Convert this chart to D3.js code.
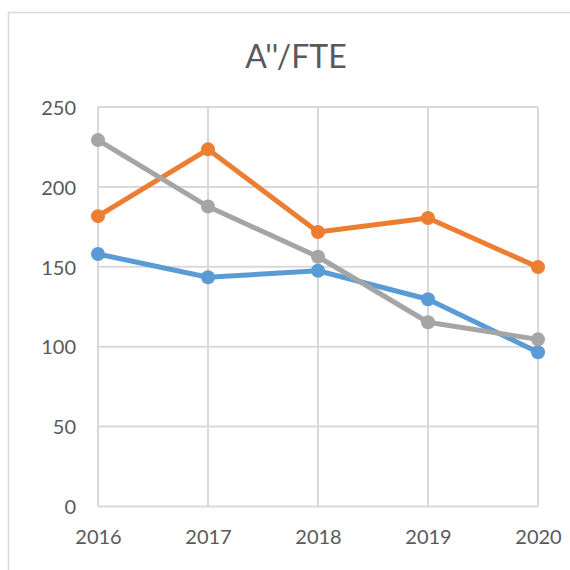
<!DOCTYPE html>
<html>
<head>
<meta charset="utf-8">
<script src="https://cdn.jsdelivr.net/npm/d3@7"></script>
<style>
  html, body { margin: 0; padding: 0; background: #fff; }
  svg { display: block; }
  text { font-family: Lato, "Open Sans", sans-serif; fill: #595959; }
</style>
</head>
<body>
<script>
const years = ["2016", "2017", "2018", "2019", "2020"];
const blueValues = [158, 143.5, 147.5, 129.7, 96.5];
const orangeValues = [181.7, 223.5, 171.8, 180.5, 149.8];
const grayValues = [229.3, 187.7, 156.3, 115.3, 104.6];
const yTicks = [0, 50, 100, 150, 200, 250];
const title = "A''/FTE";

const seriesList = [
  { name: "blue", values: blueValues, color: "#5B9BD5" },
  { name: "orange", values: orangeValues, color: "#ED7D31" },
  { name: "gray", values: grayValues, color: "#A5A5A5" }
];

const W = 570, H = 570;
const svg = d3.select("body").append("svg").attr("width", W).attr("height", H);

// chart border
svg.append("rect")
  .attr("x", 8.5).attr("y", 12.5)
  .attr("width", 570).attr("height", 570)
  .attr("fill", "#fff").attr("stroke", "#d9d9d9").attr("stroke-width", 1.5);

const x = d3.scalePoint().domain(years).range([98, 538]);
const y = d3.scaleLinear().domain([0, 250]).range([506.5, 107]);

// horizontal grid
svg.append("g").selectAll("line").data(yTicks).join("line")
  .attr("x1", 98).attr("x2", 538)
  .attr("y1", d => y(d)).attr("y2", d => y(d))
  .attr("stroke", "#d9d9d9").attr("stroke-width", 2);

// vertical grid
svg.append("g").selectAll("line").data(years).join("line")
  .attr("x1", d => x(d)).attr("x2", d => x(d))
  .attr("y1", y(250)).attr("y2", y(0))
  .attr("stroke", "#d9d9d9").attr("stroke-width", 2);

// y axis labels
const yAxis = d3.axisLeft(y).tickValues(yTicks).tickSize(0).tickPadding(0);
const gy = svg.append("g").attr("transform", "translate(76,0)").call(yAxis);
gy.select(".domain").remove();
gy.selectAll("text").style("font-size", "20px").attr("fill", "#595959")
  .style("font-family", "Lato, 'Open Sans', sans-serif").attr("dy", "0.36em");

// x axis labels
const xAxis = d3.axisBottom(x).tickSize(0).tickPadding(0);
const gx = svg.append("g").attr("transform", "translate(0,529.5)").call(xAxis);
gx.select(".domain").remove();
gx.selectAll("text").style("font-size", "20px").attr("fill", "#595959")
  .style("font-family", "Lato, 'Open Sans', sans-serif").attr("dy", "0.71em");

// title
svg.append("text").attr("x", 296).attr("y", 68)
  .attr("text-anchor", "middle").style("font-size", "32px").text(title);

// lines and markers
const line = d3.line().x((d, i) => x(years[i])).y(d => y(d));
seriesList.forEach(s => {
  svg.append("path").datum(s.values)
    .attr("d", line).attr("fill", "none")
    .attr("stroke", s.color).attr("stroke-width", 5)
    .attr("stroke-linejoin", "round");
  svg.append("g").selectAll("circle").data(s.values).join("circle")
    .attr("cx", (d, i) => x(years[i])).attr("cy", d => y(d))
    .attr("r", 7).attr("fill", s.color);
});
</script>
</body>
</html>
